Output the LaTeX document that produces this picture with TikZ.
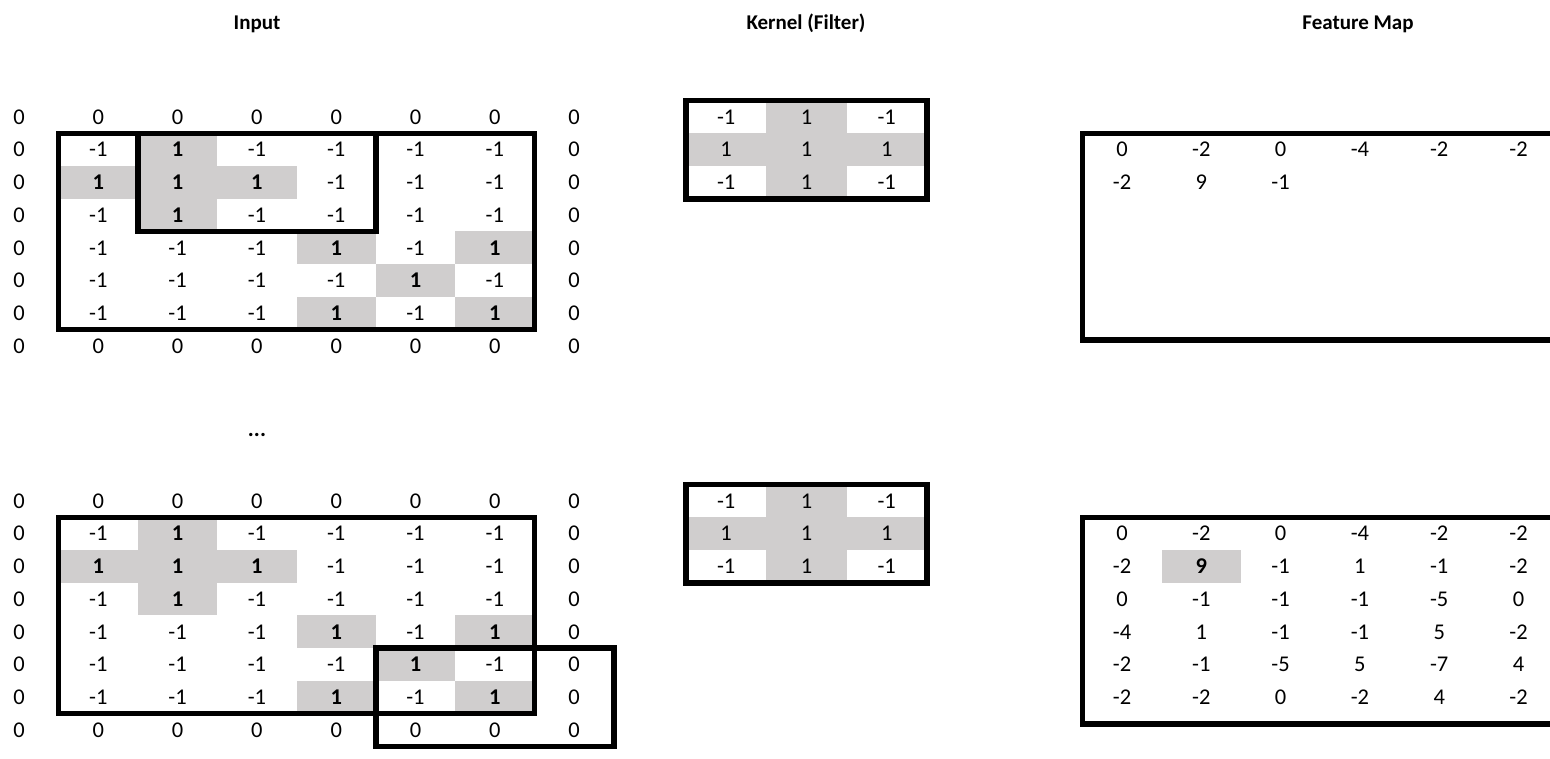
\documentclass[tikz,border=0pt]{standalone}
\usepackage{fontspec}
\setmainfont{Carlito}
\definecolor{cellgray}{HTML}{D0CECE}
\newcommand{\cellfont}{\fontsize{22.5}{26}\selectfont}
\newcommand{\headfont}{\fontsize{21}{25}\selectfont\bfseries}
\begin{document}
\begin{tikzpicture}[x=1pt,y=-1pt,
  cell/.style={font=\cellfont, inner sep=0pt, anchor=base},
  head/.style={font=\headfont, inner sep=0pt, anchor=base},
  frame/.style={draw=black, line width=5.5pt},
  shade/.style={fill=cellgray, draw=none}]
\useasboundingbox (0,0) rectangle (1550,758);
\clip (0,0) rectangle (1550,758);
% column / row geometry
\def\cw{79.3}
\def\rh{32.7}
% ---------- titles ----------
\node[head] (tin) at (257,29) {Input};
\node[head] (tker) at (806,29) {Kernel (Filter)};
\node[head] (tfm) at (1358,29) {Feature Map};
% ---------- shaded cells (input) ----------
\foreach \top in {117,501}{
  \foreach \j/\i in {1/2,2/1,2/2,2/3,3/2,4/4,4/6,5/5,6/4,6/6}{
    \fill[shade] ({19+\cw*\i-\cw/2},{\top+\rh*\j-\rh/2}) rectangle ({19+\cw*\i+\cw/2},{\top+\rh*\j+\rh/2});
  }
  % kernel shading
  \foreach \j/\i in {0/1,1/0,1/1,1/2,2/1}{
    \fill[shade] ({686+80.3*\i},{\top+\rh*\j-\rh/2}) rectangle ({686+80.3*\i+80.3},{\top+\rh*\j+\rh/2});
  }
}
% feature map shaded cell (bottom)
\fill[shade] ({1201.3-\cw/2},{501+2*\rh-\rh/2}) rectangle ({1201.3+\cw/2},{501+2*\rh+\rh/2});
% ---------- input values ----------
\foreach \top/\nm in {117/it,501/ib}{
  \foreach \row [count=\j from 0] in {{0,0,0,0,0,0,0,0},{0,-1,1,-1,-1,-1,-1,0},{0,1,1,1,-1,-1,-1,0},{0,-1,1,-1,-1,-1,-1,0},{0,-1,-1,-1,1,-1,1,0},{0,-1,-1,-1,-1,1,-1,0},{0,-1,-1,-1,1,-1,1,0},{0,0,0,0,0,0,0,0}}{
    \foreach \v [count=\i from 0] in \row {
      \node[cell] (\nm-\j-\i) at ({19+\cw*\i},{\top+\rh*\j+7.2}) {\ifnum\v=1 \bfseries\fi\v};
    }
  }
  % kernel values
  \foreach \row [count=\j from 0] in {{-1,1,-1},{1,1,1},{-1,1,-1}}{
    \foreach \v [count=\i from 0] in \row {
      \node[cell] (k\nm-\j-\i) at ({726.15+80.3*\i},{\top+\rh*\j+7.2}) {\v};
    }
  }
  % kernel frame
  \draw[frame] (686,{\top-\rh/2}) rectangle (926.9,{\top+2.5*\rh});
  % input big frame
  \draw[frame] ({19+\cw/2},{\top+\rh/2}) rectangle ({19+6.5*\cw},{\top+6.5*\rh});
  % feature map frame
  \draw[frame] ({1122-\cw/2},{\top+\rh/2}) rectangle (1600,{\top+\rh/2+206.5});
}
% ---------- window frames ----------
\draw[frame] ({19+1.5*\cw},{117+0.5*\rh}) rectangle ({19+4.5*\cw},{117+3.5*\rh});
\draw[frame] ({19+4.5*\cw},{501+4.5*\rh}) rectangle ({19+7.5*\cw},{501+7.5*\rh});
% ---------- ellipsis ----------
\node[cell, font=\cellfont\bfseries] (dots) at (257,436) {...};
% ---------- feature map values (top, partial) ----------
\foreach \row [count=\j from 1] in {{0,-2,0,-4,-2,-2},{-2,9,-1}}{
  \foreach \v [count=\i from 0] in \row {
    \node[cell] (ft-\j-\i) at ({1122+\cw*\i},{117+\rh*\j+7.2}) {\v};
  }
}
% ---------- feature map values (bottom, full) ----------
\foreach \row [count=\j from 1] in {{0,-2,0,-4,-2,-2},{-2,9,-1,1,-1,-2},{0,-1,-1,-1,-5,0},{-4,1,-1,-1,5,-2},{-2,-1,-5,5,-7,4},{-2,-2,0,-2,4,-2}}{
  \foreach \v [count=\i from 0] in \row {
    \node[cell] (fb-\j-\i) at ({1122+\cw*\i},{501+\rh*\j+7.2}) {\ifnum\j=2 \ifnum\i=1 \bfseries\fi\fi\v};
  }
}
\end{tikzpicture}
\end{document}
